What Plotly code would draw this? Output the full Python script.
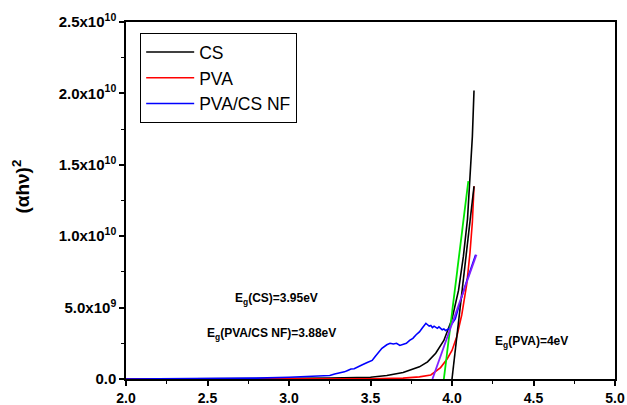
import plotly.graph_objects as go

E10 = 1e10

# Photon energy (eV) and (alpha*h*nu)^2 in units of 1e10
cs_energy = [2.0, 2.5, 3.0, 3.25, 3.5, 3.6, 3.7, 3.75, 3.8, 3.85, 3.9, 3.95, 4.0,
             4.04, 4.07, 4.095, 4.11, 4.125, 4.135]
cs_value = [0.0, 0.001, 0.003, 0.006, 0.012, 0.025, 0.045, 0.063, 0.085, 0.12, 0.18,
            0.27, 0.42, 0.62, 0.86, 1.12, 1.38, 1.70, 2.02]

pva_energy = [2.0, 2.5, 3.0, 3.5, 3.7, 3.8, 3.87, 3.93, 3.97, 4.0, 4.03, 4.06, 4.09,
              4.11, 4.125, 4.135]
pva_value = [0.0, 0.0, 0.001, 0.002, 0.006, 0.015, 0.028, 0.08, 0.14, 0.2, 0.3, 0.45,
             0.66, 0.88, 1.1, 1.35]

nf_energy = [2.0, 2.2, 2.4, 2.6, 2.8, 3.0, 3.1, 3.2, 3.25, 3.28, 3.31, 3.34, 3.36,
             3.38, 3.40, 3.42, 3.45, 3.48, 3.51, 3.53, 3.55, 3.57, 3.60, 3.62, 3.64,
             3.66, 3.68, 3.70, 3.72, 3.74, 3.76, 3.78, 3.80, 3.82, 3.84, 3.85, 3.86,
             3.87, 3.88, 3.89, 3.90, 3.91, 3.92, 3.93, 3.94, 3.95, 3.96, 3.97, 3.98,
             3.99, 4.00, 4.02, 4.04, 4.06, 4.08, 4.10, 4.12, 4.145]
nf_value = [0.0, 0.001, 0.002, 0.003, 0.006, 0.012, 0.016, 0.02, 0.025, 0.035, 0.04,
            0.05, 0.06, 0.07, 0.072, 0.085, 0.10, 0.115, 0.13, 0.16, 0.19, 0.215,
            0.24, 0.25, 0.245, 0.25, 0.235, 0.24, 0.25, 0.27, 0.285, 0.31, 0.33,
            0.36, 0.39, 0.38, 0.37, 0.375, 0.36, 0.37, 0.365, 0.355, 0.365, 0.355,
            0.345, 0.35, 0.34, 0.345, 0.35, 0.37, 0.39, 0.42, 0.50, 0.58, 0.65,
            0.72, 0.79, 0.87]

# Linear extrapolations of the absorption edges (intercept = band gap)
fit_cs_x, fit_cs_y = [3.95, 4.10], [0.0, 1.386]
fit_pva_x, fit_pva_y = [4.0, 4.135], [0.0, 1.35]
fit_nf_x, fit_nf_y = [3.88, 4.15], [0.0, 0.87]

y_ticks = [0, 0.5, 1.0, 1.5, 2.0, 2.5]
y_tick_text = ["0.0", "5.0x10<sup>9</sup>", "1.0x10<sup>10</sup>",
               "1.5x10<sup>10</sup>", "2.0x10<sup>10</sup>", "2.5x10<sup>10</sup>"]

FONT = "Liberation Sans, Arial, sans-serif"


def scaled(vals):
    return [v * E10 for v in vals]


fig = go.Figure()
fig.add_trace(go.Scatter(x=cs_energy, y=scaled(cs_value), mode="lines", name="CS",
                         line=dict(color="black", width=1.6)))
fig.add_trace(go.Scatter(x=pva_energy, y=scaled(pva_value), mode="lines", name="PVA",
                         line=dict(color="#ff0000", width=1.6)))
fig.add_trace(go.Scatter(x=nf_energy, y=scaled(nf_value), mode="lines", name="PVA/CS NF",
                         line=dict(color="#0000ff", width=1.6)))
fig.add_trace(go.Scatter(x=fit_pva_x, y=scaled(fit_pva_y), mode="lines", showlegend=False,
                         line=dict(color="black", width=1.6)))
fig.add_trace(go.Scatter(x=fit_cs_x, y=scaled(fit_cs_y), mode="lines", showlegend=False,
                         line=dict(color="#00e600", width=1.8)))
fig.add_trace(go.Scatter(x=fit_nf_x, y=scaled(fit_nf_y), mode="lines", showlegend=False,
                         line=dict(color="#8020ff", width=1.8)))

ann_font = dict(family=FONT, size=12, color="black", weight="bold")
fig.add_annotation(x=2.926, y=0.56 * E10, text="E<sub>g</sub>(CS)=3.95eV",
                   showarrow=False, font=ann_font)
fig.add_annotation(x=2.895, y=0.315 * E10, text="E<sub>g</sub>(PVA/CS NF)=3.88eV",
                   showarrow=False, font=ann_font)
fig.add_annotation(x=4.49, y=0.262 * E10, text="E<sub>g</sub>(PVA)=4eV",
                   showarrow=False, font=ann_font)
fig.add_annotation(xref="paper", yref="paper", x=-0.214, y=0.54,
                   xanchor="center", yanchor="middle",
                   text="(αhν)<sup>2</sup>", textangle=-90, showarrow=False,
                   font=dict(family=FONT, size=19, color="black", weight="bold"))

x_tick_font = dict(family=FONT, size=14, color="black", weight="bold")
y_tick_font = dict(family=FONT, size=15, color="black", weight="bold")
fig.update_layout(
    width=627, height=405,
    margin=dict(l=126, r=12, t=22, b=26, autoexpand=False),
    paper_bgcolor="white", plot_bgcolor="white",
    showlegend=True,
    legend=dict(x=0.029, y=0.969, xanchor="left", yanchor="top",
                bordercolor="black", borderwidth=1, bgcolor="white",
                font=dict(family=FONT, size=17.5, color="black"),
                itemwidth=48, tracegroupgap=0),
    xaxis=dict(range=[2.0, 5.0], dtick=0.5, tickformat=".1f", showgrid=False,
               zeroline=False, showline=True, linecolor="black", linewidth=1.5,
               mirror=True, ticks="outside", ticklen=5, tickwidth=1.5,
               tickcolor="black", tickfont=x_tick_font, automargin=False,
               minor=dict(dtick=0.25, ticks="outside", ticklen=3, tickwidth=1,
                          tickcolor="black")),
    yaxis=dict(range=[0, 2.5 * E10], tickvals=scaled(y_ticks), ticktext=y_tick_text,
               showgrid=False, zeroline=False, showline=True, linecolor="black",
               linewidth=1.5, mirror=True, ticks="outside", ticklen=5, tickwidth=1.5,
               tickcolor="black", tickfont=y_tick_font, automargin=False,
               minor=dict(tickvals=scaled([0.25, 0.75, 1.25, 1.75, 2.25]),
                          ticks="outside", ticklen=3, tickwidth=1, tickcolor="black")),
)

fig.write_html("out.html")
